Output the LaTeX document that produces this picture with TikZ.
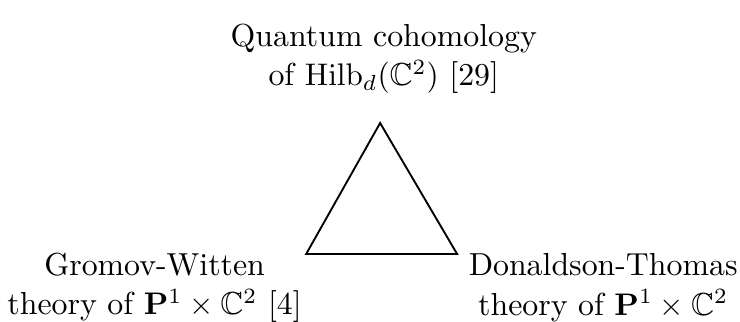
\documentclass[tikz,border=0pt]{standalone}
\usepackage{amssymb}
\usetikzlibrary{positioning, calc}

\begin{document}
\begin{tikzpicture}[
        theory/.style={align=center, inner sep=1pt, font=\fontsize{10.2pt}{12.6pt}\selectfont},
        edge/.style={semithick, draw=black, line join=miter}
    ]
        \useasboundingbox (0,0) rectangle (8.33,-3.615);
        \coordinate (top) at (4.279,-1.385);
        \coordinate (left) at (3.446,-2.860);
        \coordinate (right) at (5.146,-2.860);

        \node[theory] (qc) at (4.32,-0.66) {Quantum cohomology\\of $\mathrm{Hilb}_d(\mathbb{C}^2)$ [29]};
        \node[theory] (gw) at (1.74,-3.24) {Gromov-Witten\\theory of $\mathbf{P}^1\times\mathbb{C}^2$ [4]};
        \node[theory] (dt) at (6.79,-3.24) {Donaldson-Thomas\\theory of $\mathbf{P}^1\times\mathbb{C}^2$};

        \draw[edge] (top) -- (left) -- (right) -- cycle;
    \end{tikzpicture}
\end{document}
